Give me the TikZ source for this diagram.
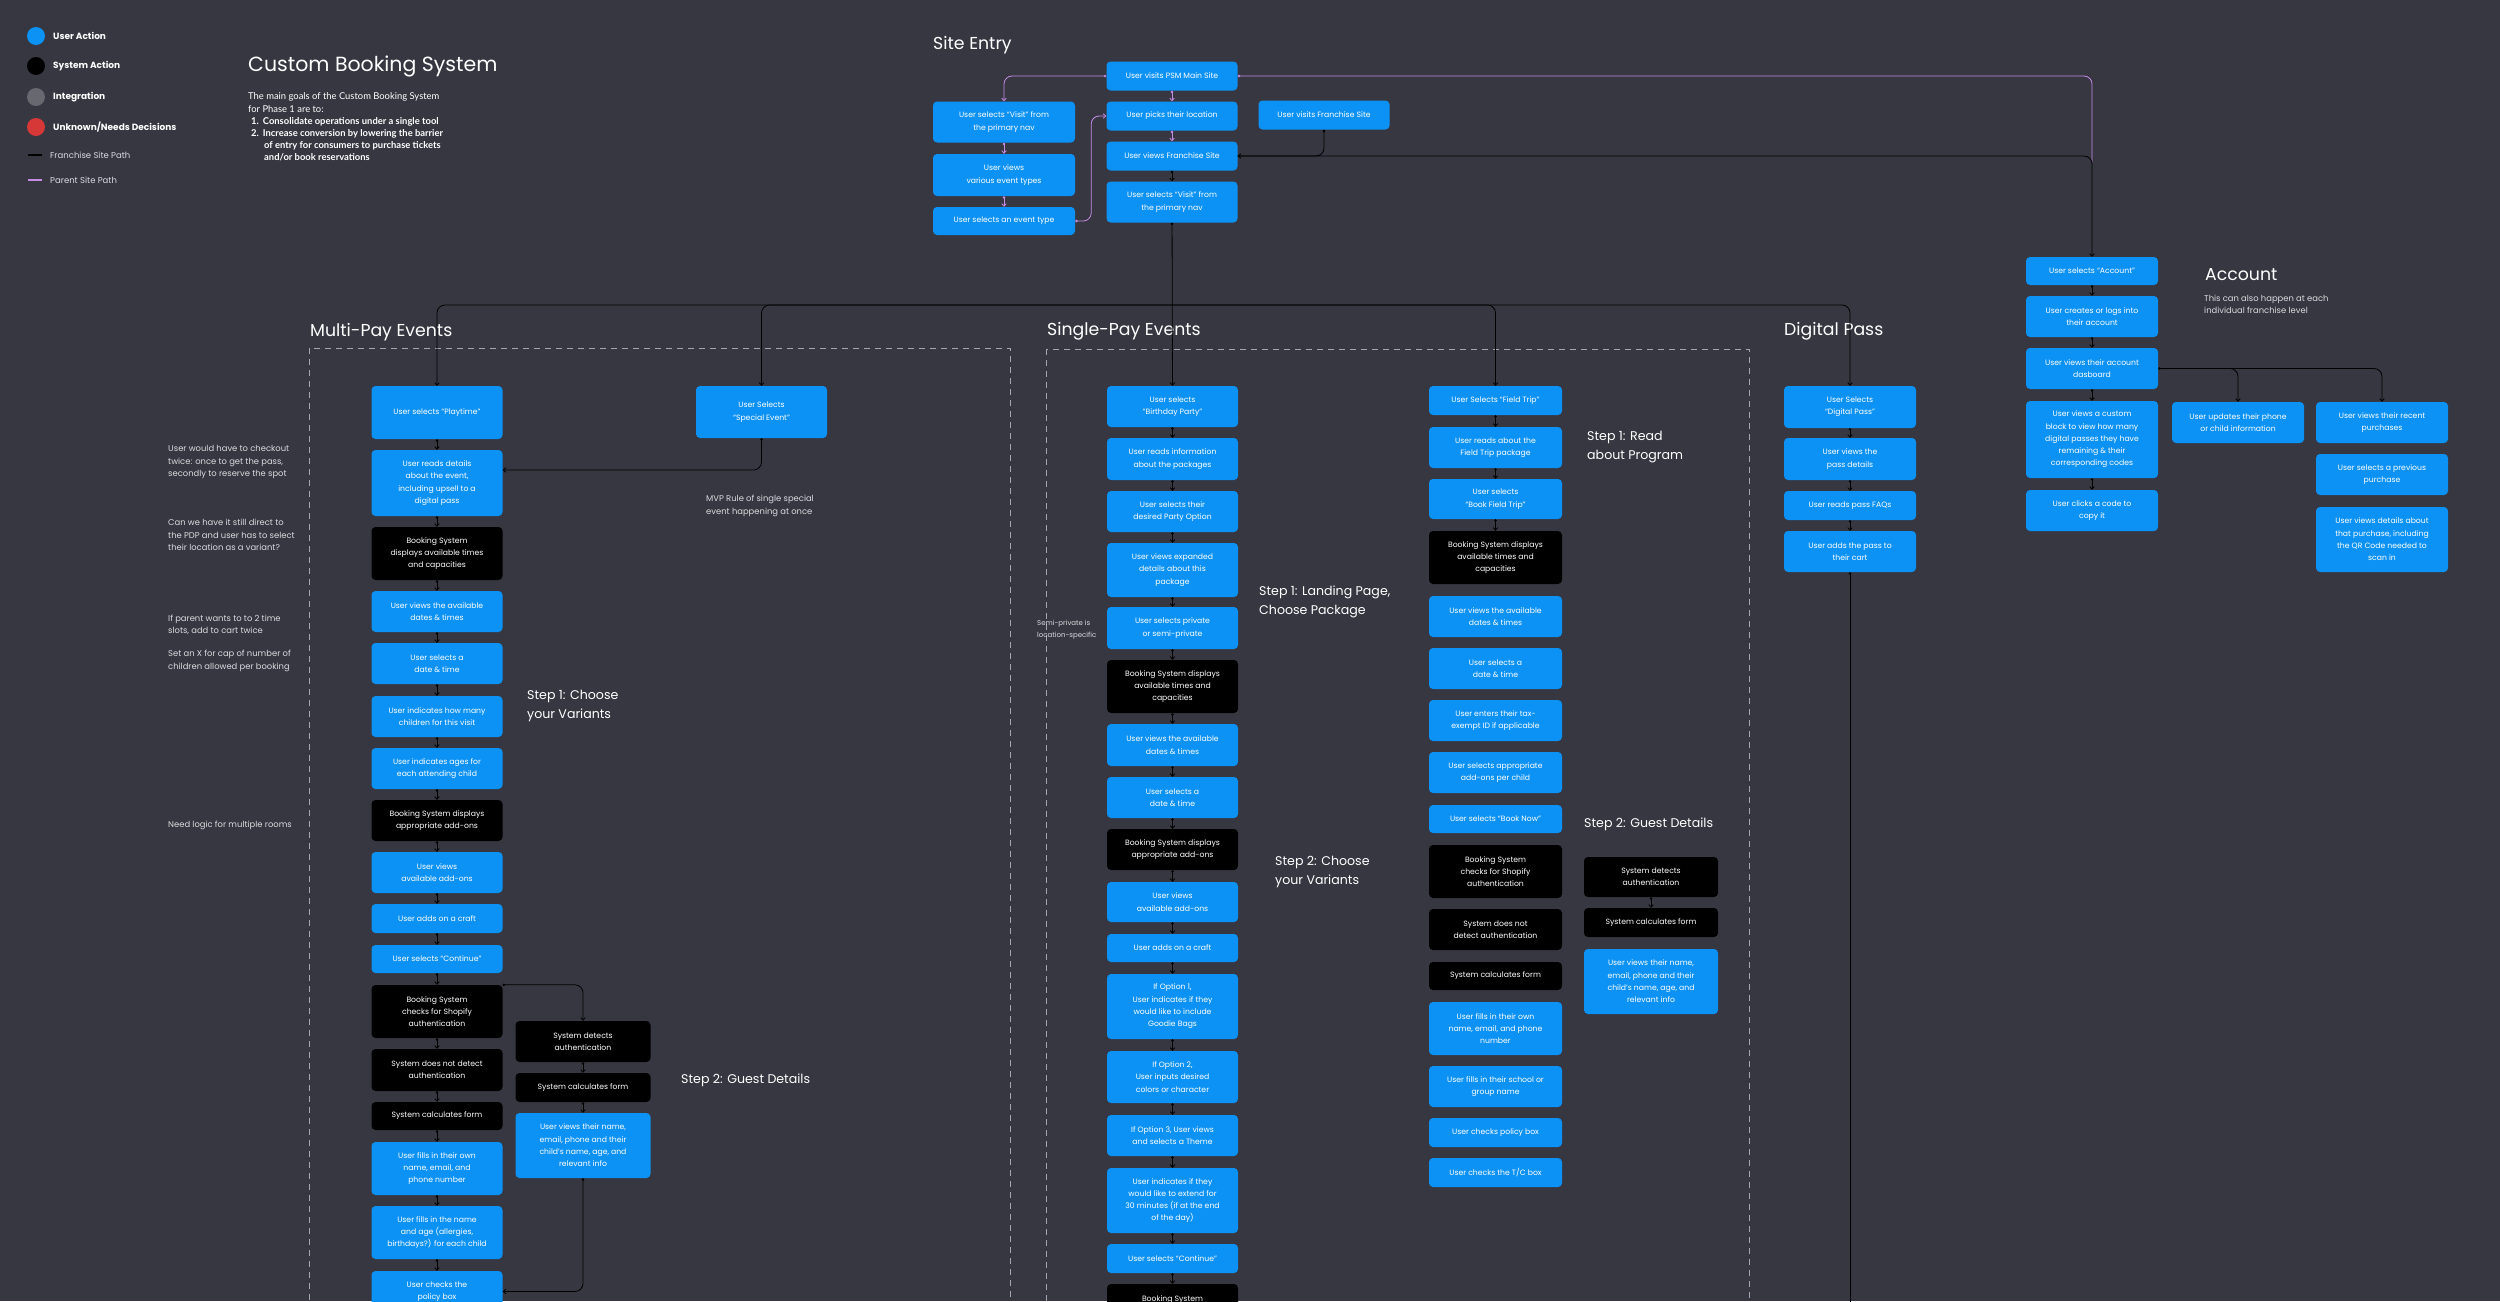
\documentclass[tikz,border=0pt]{standalone}
\usepackage{fontspec}
\setmainfont{Poppins}
\newfontfamily\goalsfont{Lato}
\usetikzlibrary{arrows.meta, calc}

\definecolor{canvasbg}{RGB}{55,55,66}
\definecolor{useractblue}{RGB}{12,146,245}
\definecolor{integrationgray}{RGB}{104,104,112}
\definecolor{decisionred}{RGB}{214,56,56}
\definecolor{parentpurple}{RGB}{198,140,228}
\definecolor{framegray}{RGB}{165,165,172}
\definecolor{notegray}{RGB}{218,218,222}

\newcommand{\boxtext}{\fontsize{7.7}{12.3}\selectfont}
\newcommand{\notetext}{\fontsize{8.4}{12.3}\selectfont}
\newcommand{\smallnotetext}{\fontsize{7}{12.5}\selectfont}
\newcommand{\steptext}{\fontsize{12.6}{18.3}\selectfont}
\newcommand{\headtext}{\fontsize{17.3}{20}\selectfont}

\tikzset{
  stepbox/.style={rectangle, rounded corners=4pt, text=white, font=\boxtext,
    align=center, inner sep=2pt, minimum width=131pt},
  useract/.style={stepbox, fill=useractblue, minimum height=#1},
  useract/.default=41pt,
  sysact/.style={stepbox, fill=black, minimum height=#1},
  sysact/.default=41pt,
  arrowline/.style={line width=0.8pt, -{Straight Barb[length=2.6pt,width=4.6pt]}},
  dotarrow/.style={line width=0.8pt, {Circle[length=2.4pt]}-{Straight Barb[length=2.6pt,width=4.6pt]}},
  franchisepath/.style={draw=black},
  parentpath/.style={draw=parentpurple},
  sectionframe/.style={draw=framegray, line width=0.9pt, dash pattern=on 6pt off 5pt},
  sectiontitle/.style={anchor=west, inner sep=0pt, text=white, font=\headtext},
  steplabel/.style={anchor=west, inner sep=0pt, text=white, font=\steptext, align=left},
  note/.style={anchor=west, inner sep=0pt, text=notegray, font=\notetext, align=left},
  legenddot/.style={circle, minimum size=18pt, inner sep=0pt},
  legendtext/.style={anchor=west, inner sep=0pt, text=white, font=\fontsize{9}{11}\selectfont\bfseries},
  legendpath/.style={anchor=west, inner sep=0pt, text=notegray, font=\fontsize{8.5}{10}\selectfont},
}

\begin{document}
\begin{tikzpicture}[x=1pt, y=-1pt]
\useasboundingbox (0,0) rectangle (2500,1301);
\clip (0,0) rectangle (2500,1301);
\fill[canvasbg] (0,0) rectangle (2500,1301);

% legend
\node[legenddot, fill=useractblue] (key-user) at (36,36) {};
\node[legenddot, fill=black] (key-system) at (36,66) {};
\node[legenddot, fill=integrationgray] (key-integration) at (36,97) {};
\node[legenddot, fill=decisionred] (key-unknown) at (36,127) {};
\node[legendtext] (key-user-label) at (53,36) {User Action};
\node[legendtext] (key-system-label) at (53,66) {System Action};
\node[legendtext] (key-integration-label) at (53,97) {Integration};
\node[legendtext] (key-unknown-label) at (53,127) {Unknown/Needs Decisions};
\draw[black, line width=2pt] (28,155) -- (42,155);
\draw[parentpurple, line width=2pt] (28,180) -- (42,180);
\node[legendpath] (key-franchise-label) at (50,155) {Franchise Site Path};
\node[legendpath] (key-parent-label) at (50,180) {Parent Site Path};

% title and goals
\node[sectiontitle, font=\fontsize{20.5}{24}\selectfont] (title) at (248,66) {Custom Booking System};
\node[note, font=\goalsfont\fontsize{9.4}{12.1}\selectfont, text=white] (goals) at (248,127) {%
The main goals of the Custom Booking System\\
for Phase 1 are to:\\
\textbf{\hspace*{3pt}1.\hspace{4pt}Consolidate operations under a single tool}\\
\textbf{\hspace*{3pt}2.\hspace{4pt}Increase conversion by lowering the barrier}\\
\textbf{\hspace*{16pt}of entry for consumers to purchase tickets}\\
\textbf{\hspace*{16pt}and/or book reservations}};

% section headings
\node[sectiontitle] (site-entry-title) at (933,45) {Site Entry};
\node[sectiontitle] (multi-title) at (310,332) {Multi-Pay Events};
\node[sectiontitle] (single-title) at (1047,331) {Single-Pay Events};
\node[sectiontitle] (pass-title) at (1784,331) {Digital Pass};
\node[sectiontitle] (account-title) at (2205,275) {Account};
\node[note] (account-sub) at (2204,304) {This can also happen at each\\individual franchise level};

% dashed sections
\draw[sectionframe] (309,348) rectangle (1010,1330);
\draw[sectionframe] (1046,349) rectangle (1749,1330);

% site entry
\node[useract=29pt] (psm) at (1172,76) {User visits PSM Main Site};
\node[useract, minimum width=142pt] (visit1) at (1004,122) {User selects “Visit” from\\the primary nav};
\node[useract=42pt, minimum width=142pt] (evtypes) at (1004,175) {User views\\various event types};
\node[useract=28pt, minimum width=142pt] (selevent) at (1004,221) {User selects an event type};
\node[useract=29pt] (picks) at (1172,116) {User picks their location};
\node[useract=29pt] (viewfr) at (1172,156) {User views Franchise Site};
\node[useract] (visit2) at (1172,202) {User selects “Visit” from\\the primary nav};
\node[useract=29pt] (visitfr) at (1324,115) {User visits Franchise Site};

% multi-pay events
\node[useract=53pt] (mp-play) at (437,412.5) {User selects “Playtime”};
\node[useract=66pt] (mp-reads) at (437,483) {User reads details\\about the event,\\including upsell to a\\digital pass};
\node[sysact=53pt] (mp-bsdisp) at (437,553.5) {Booking System\\displays available times\\and capacities};
\node[useract] (mp-views) at (437,611.5) {User views the available\\dates \& times};
\node[useract] (mp-seldate) at (437,663.5) {User selects a\\date \& time};
\node[useract] (mp-howmany) at (437,716.5) {User indicates how many\\children for this visit};
\node[useract] (mp-ages) at (437,768.5) {User indicates ages for\\each attending child};
\node[sysact] (mp-bsaddons) at (437,820.5) {Booking System displays\\appropriate add-ons};
\node[useract] (mp-viewaddons) at (437,872.5) {User views\\available add-ons};
\node[useract=29pt] (mp-craft) at (437,918.5) {User adds on a craft};
\node[useract=28pt] (mp-cont) at (437,959) {User selects “Continue”};
\node[sysact=53pt] (mp-checkshop) at (437,1011.5) {Booking System\\checks for Shopify\\authentication};
\node[sysact=42pt] (mp-notdetect) at (437,1070) {System does not detect\\authentication};
\node[sysact=28pt] (mp-calcform) at (437,1116) {System calculates form};
\node[useract=53pt] (mp-fillown) at (437,1168.5) {User fills in their own\\name, email, and\\phone number};
\node[useract=53pt] (mp-fillchild) at (437,1232.5) {User fills in the name\\and age (allergies,\\birthdays?) for each child};
\node[useract] (mp-policy) at (437,1291.5) {User checks the\\policy box};
\node[sysact, minimum width=135pt] (mp-detects) at (583,1041.5) {System detects\\authentication};
\node[sysact=29pt, minimum width=135pt] (mp-calcform2) at (583,1087.5) {System calculates form};
\node[useract=65pt, minimum width=135pt] (mp-viewsname) at (583,1145.5) {User views their name,\\email, phone and their\\child’s name, age, and\\relevant info};
\node[useract=52pt] (mp-special) at (761.5,412) {User Selects\\“Special Event”};

\node[note] (note-checkout) at (168,462) {User would have to checkout\\twice: once to get the pass,\\secondly to reserve the spot};
\node[note] (note-pdp) at (168,535) {Can we have it still direct to\\the PDP and user has to select\\their location as a variant?};
\node[note] (note-slots) at (168,625) {If parent wants to to 2 time\\slots, add to cart twice};
\node[note] (note-cap) at (168,661) {Set an X for cap of number of\\children allowed per booking};
\node[note] (note-rooms) at (168,825) {Need logic for multiple rooms};
\node[note] (note-mvp) at (706,506) {MVP Rule of single special\\event happening at once};
\node[steplabel] (mp-step1) at (527,706) {Step 1: Choose\\your Variants};
\node[steplabel] (mp-step2) at (681,1080) {Step 2: Guest Details};

% single-pay events
\node[useract] (sp-bday) at (1172.5,406.5) {User selects\\“Birthday Party”};
\node[useract=42pt] (sp-info) at (1172.5,459) {User reads information\\about the packages};
\node[useract] (sp-partyopt) at (1172.5,511.5) {User selects their\\desired Party Option};
\node[useract=54pt] (sp-expanded) at (1172.5,570) {User views expanded\\details about this\\package};
\node[useract=42pt] (sp-private) at (1172.5,628) {User selects private\\or semi-private};
\node[sysact=53pt] (sp-bsdisp) at (1172.5,686.5) {Booking System displays\\available times and\\capacities};
\node[useract=42pt] (sp-views) at (1172.5,745) {User views the available\\dates \& times};
\node[useract] (sp-seldate) at (1172.5,797.5) {User selects a\\date \& time};
\node[sysact] (sp-bsaddons) at (1172.5,849.5) {Booking System displays\\appropriate add-ons};
\node[useract=40pt] (sp-viewaddons) at (1172.5,902) {User views\\available add-ons};
\node[useract=28pt] (sp-craft) at (1172.5,948) {User adds on a craft};
\node[useract=65pt] (sp-opt1) at (1172.5,1006.5) {If Option 1,\\User indicates if they\\would like to include\\Goodie Bags};
\node[useract=52pt] (sp-opt2) at (1172.5,1077) {If Option 2,\\User inputs desired\\colors or character};
\node[useract] (sp-opt3) at (1172.5,1135.5) {If Option 3, User views\\and selects a Theme};
\node[useract=65pt] (sp-extend) at (1172.5,1200.5) {User indicates if they\\would like to extend for\\30 minutes (if at the end\\of the day)};
\node[useract=29pt] (sp-cont) at (1172.5,1258.5) {User selects “Continue”};
\node[sysact=53pt] (sp-checkshop) at (1172.5,1310.5) {Booking System\\checks for Shopify\\authentication};
\node[note, font=\smallnotetext] (note-semi) at (1037,629.5) {Semi-private is\\location-specific};
\node[steplabel] (sp-step1) at (1259,602) {Step 1: Landing Page,\\Choose Package};
\node[steplabel] (sp-step2) at (1275,872) {Step 2: Choose\\your Variants};

% field trip
\node[useract=29pt, minimum width=133pt] (ft-field) at (1495.5,400.5) {User Selects “Field Trip”};
\node[useract, minimum width=133pt] (ft-read) at (1495.5,447.5) {User reads about the\\Field Trip package};
\node[useract=40pt, minimum width=133pt] (ft-book) at (1495.5,499) {User selects\\“Book Field Trip”};
\node[sysact=53pt, minimum width=133pt] (ft-bsdisp) at (1495.5,557.5) {Booking System displays\\available times and\\capacities};
\node[useract, minimum width=133pt] (ft-views) at (1495.5,616.5) {User views the available\\dates \& times};
\node[useract, minimum width=133pt] (ft-seldate) at (1495.5,668.5) {User selects a\\date \& time};
\node[useract, minimum width=133pt] (ft-taxid) at (1495.5,720.5) {User enters their tax-\\exempt ID if applicable};
\node[useract, minimum width=133pt] (ft-addons) at (1495.5,772.5) {User selects appropriate\\add-ons per child};
\node[useract=28pt, minimum width=133pt] (ft-booknow) at (1495.5,819) {User selects “Book Now”};
\node[sysact=53pt, minimum width=133pt] (ft-checkshop) at (1495.5,871.5) {Booking System\\checks for Shopify\\authentication};
\node[sysact, minimum width=133pt] (ft-notdetect) at (1495.5,929.5) {System does not\\detect authentication};
\node[sysact=28pt, minimum width=133pt] (ft-calcform) at (1495.5,976) {System calculates form};
\node[useract=53pt, minimum width=133pt] (ft-fillown) at (1495.5,1028.5) {User fills in their own\\name, email, and phone\\number};
\node[useract, minimum width=133pt] (ft-school) at (1495.5,1086.5) {User fills in their school or\\group name};
\node[useract=29pt, minimum width=133pt] (ft-policy) at (1495.5,1132.5) {User checks policy box};
\node[useract=29pt, minimum width=133pt] (ft-tc) at (1495.5,1172.5) {User checks the T/C box};
\node[sysact=40pt, minimum width=134pt] (ft-detects) at (1651,877) {System detects\\authentication};
\node[sysact=29pt, minimum width=134pt] (ft-calcform2) at (1651,922.5) {System calculates form};
\node[useract=65pt, minimum width=134pt] (ft-viewsname) at (1651,981.5) {User views their name,\\email, phone and their\\child’s name, age, and\\relevant info};
\node[steplabel] (ft-step1) at (1587,447) {Step 1: Read\\about Program};
\node[steplabel] (ft-step2) at (1584,824) {Step 2: Guest Details};

% digital pass
\node[useract=42pt, minimum width=132pt] (dp-select) at (1850,407) {User Selects\\“Digital Pass”};
\node[useract=42pt, minimum width=132pt] (dp-details) at (1850,459) {User views the\\pass details};
\node[useract=29pt, minimum width=132pt] (dp-faqs) at (1850,505.5) {User reads pass FAQs};
\node[useract, minimum width=132pt] (dp-cart) at (1850,551.5) {User adds the pass to\\their cart};
\coordinate (dp-end) at (1850,1320);

% account
\node[useract=28pt, minimum width=132pt] (ac-select) at (2092,271) {User selects “Account”};
\node[useract, minimum width=132pt] (ac-login) at (2092,316.5) {User creates or logs into\\their account};
\node[useract, minimum width=132pt] (ac-dash) at (2092,368.5) {User views their account\\dasboard};
\node[useract=77pt, minimum width=132pt] (ac-block) at (2092,439.5) {User views a custom\\block to view how many\\digital passes they have\\remaining \& their\\corresponding codes};
\node[useract, minimum width=132pt] (ac-copy) at (2092,510.5) {User clicks a code to\\copy it};
\node[useract, minimum width=132pt] (ac-phone) at (2238,422.5) {User updates their phone\\or child information};
\node[useract, minimum width=132pt] (ac-recent) at (2382,422.5) {User views their recent\\purchases};
\node[useract, minimum width=132pt] (ac-prev) at (2382,474.5) {User selects a previous\\purchase};
\node[useract=65pt, minimum width=132pt] (ac-details) at (2382,539.5) {User views details about\\that purchase, including\\the QR Code needed to\\scan in};

% parent site path
\coordinate (parent-join) at (2092,162);
\draw[parentpath, dotarrow, rounded corners=8pt] (psm.west) -| (visit1.north);
\draw[parentpath, line width=0.8pt, {Circle[length=2.4pt]}-, rounded corners=8pt] (psm.east) -| (parent-join);
\draw[parentpath, dotarrow, rounded corners=8pt] (selevent.east) -- ++(16,0) |- (picks.west);
\foreach \a/\b in {psm/picks, picks/viewfr, visit1/evtypes, evtypes/selevent}
  \draw[parentpath, dotarrow] (\a) -- (\b);

% franchise site path
\coordinate (trunk) at (1172,305);
\draw[franchisepath, dotarrow, rounded corners=8pt] (visitfr.south) |- (viewfr.east);
\draw[franchisepath, arrowline, rounded corners=8pt] (viewfr.east) -| (ac-select.north);
\draw[franchisepath, dotarrow] (viewfr) -- (visit2);
\draw[franchisepath, dotarrow] (visit2) -- (sp-bday);
\foreach \b in {mp-play, mp-special, ft-field, dp-select}
  \draw[franchisepath, arrowline, rounded corners=8pt] (trunk) -| (\b);

% multi-pay flow
\foreach \a/\b in {mp-play/mp-reads, mp-reads/mp-bsdisp, mp-bsdisp/mp-views,
    mp-views/mp-seldate, mp-seldate/mp-howmany, mp-howmany/mp-ages,
    mp-ages/mp-bsaddons, mp-bsaddons/mp-viewaddons, mp-viewaddons/mp-craft,
    mp-craft/mp-cont, mp-cont/mp-checkshop, mp-checkshop/mp-notdetect,
    mp-notdetect/mp-calcform, mp-calcform/mp-fillown, mp-fillown/mp-fillchild,
    mp-fillchild/mp-policy, mp-detects/mp-calcform2, mp-calcform2/mp-viewsname}
  \draw[franchisepath, dotarrow] (\a) -- (\b);
\draw[franchisepath, dotarrow, rounded corners=8pt] (mp-special.south) |- ($(mp-reads.east)+(0,-13)$);
\draw[franchisepath, dotarrow, rounded corners=8pt] (mp-checkshop.north east) -| (mp-detects.north);
\draw[franchisepath, dotarrow, rounded corners=8pt] (mp-viewsname.south) |- (mp-policy.east);

% single-pay flow
\foreach \a/\b in {sp-bday/sp-info, sp-info/sp-partyopt, sp-partyopt/sp-expanded,
    sp-expanded/sp-private, sp-private/sp-bsdisp, sp-bsdisp/sp-views,
    sp-views/sp-seldate, sp-seldate/sp-bsaddons, sp-bsaddons/sp-viewaddons,
    sp-viewaddons/sp-craft, sp-craft/sp-opt1, sp-opt1/sp-opt2, sp-opt2/sp-opt3,
    sp-opt3/sp-extend, sp-extend/sp-cont, sp-cont/sp-checkshop,
    ft-field/ft-read, ft-read/ft-book, ft-book/ft-bsdisp, ft-detects/ft-calcform2}
  \draw[franchisepath, dotarrow] (\a) -- (\b);

% digital pass and account flow
\foreach \a/\b in {dp-select/dp-details, dp-details/dp-faqs, dp-faqs/dp-cart,
    ac-select/ac-login, ac-login/ac-dash, ac-dash/ac-block, ac-block/ac-copy}
  \draw[franchisepath, dotarrow] (\a) -- (\b);
\draw[franchisepath, line width=0.8pt, {Circle[length=2.4pt]}-] (dp-cart) -- (dp-end);
\draw[franchisepath, dotarrow, rounded corners=8pt] (ac-dash.east) -| (ac-phone.north);
\draw[franchisepath, arrowline, rounded corners=8pt] (ac-dash.east) -| (ac-recent.north);
\end{tikzpicture}
\end{document}
